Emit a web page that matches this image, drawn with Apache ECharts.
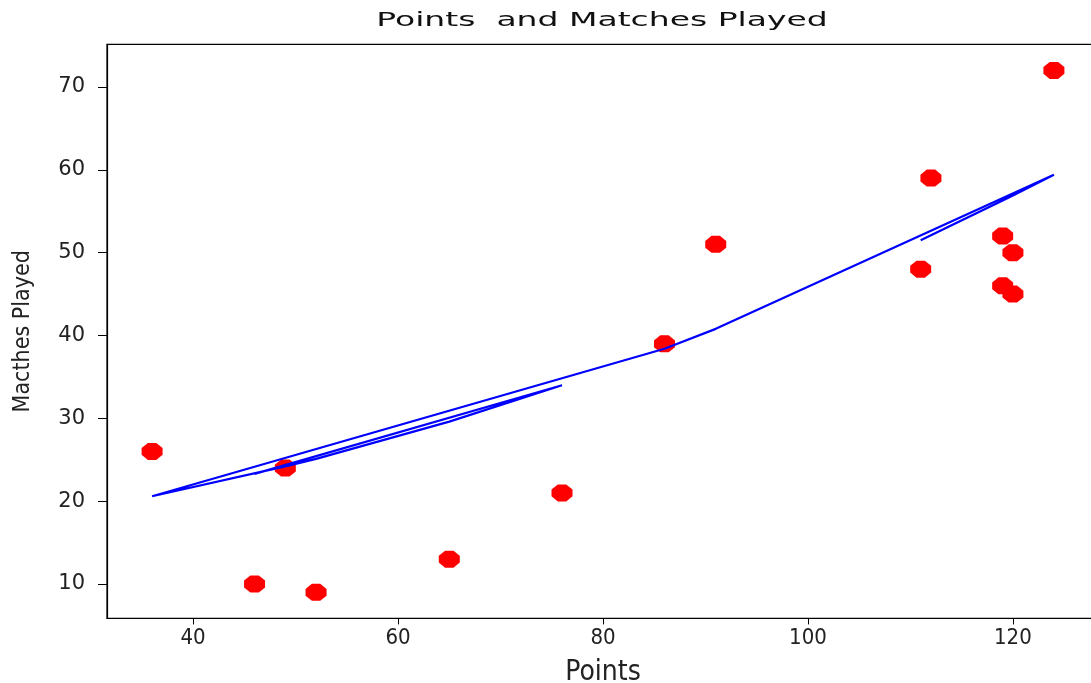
<!DOCTYPE html>
<html>
<head>
<meta charset="utf-8">
<title>Points and Matches Played</title>
<script src="https://cdn.jsdelivr.net/npm/echarts@6/dist/echarts.min.js"></script>
<style>
  html, body { margin: 0; padding: 0; background: #ffffff; }
  #chart { width: 1091px; height: 683px; }
</style>
</head>
<body>
<div id="chart"></div>
<script>
// Points earned and matches played, one entry per team, in table order
const points  = [46, 76, 65, 52, 49, 36, 86, 91, 124, 120, 119, 111, 120, 112, 119];
const matches = [10, 21, 13, 9, 24, 26, 39, 51, 72, 50, 52, 48, 45, 59, 46];
// Fitted trend value for each row (same order as above)
const trend   = [23.3, 34.0, 29.6, 25.1, 24.2, 20.6, 38.4, 40.8, 59.4, 56.9, 56.3, 51.5, 56.9, 52.1, 56.3];

// Tick positions
const xTicks = [40, 60, 80, 100, 120];
const yTicks = [10, 20, 30, 40, 50, 60, 70];

const scatterData = points.map((p, i) => [p, matches[i]]);
const trendData   = points.map((p, i) => [p, trend[i]]);

const octagon = 'path://M3,0 L7,0 L10,3 L10,7 L7,10 L3,10 L0,7 L0,3 Z';
const textColor = '#222222';
const narrowFont = "'DejaVu Sans Condensed', 'Liberation Sans Narrow', 'DejaVu Sans', sans-serif";

const chart = echarts.init(document.getElementById('chart'), null, { renderer: 'canvas' });

chart.setOption({
  backgroundColor: '#ffffff',
  animation: false,
  graphic: [{
    type: 'text',
    x: 602,
    y: 21,
    scaleX: 1.65,
    scaleY: 1,
    style: {
      text: 'Points  and Matches Played',
      font: '20px "DejaVu Sans", sans-serif',
      fill: '#111111',
      textAlign: 'center',
      textVerticalAlign: 'middle'
    }
  }],
  grid: {
    left: 107,
    top: 44.3,
    width: 992,
    height: 574.1,
    containLabel: false,
    outerBoundsMode: 'none',
    show: true,
    borderColor: '#000000',
    borderWidth: 1.2,
    backgroundColor: 'transparent'
  },
  xAxis: {
    type: 'value',
    min: 31.6,
    max: 128.4,
    name: 'Points',
    nameLocation: 'middle',
    nameGap: 40,
    nameTextStyle: { color: textColor, fontSize: 28, fontFamily: narrowFont },
    axisLine: { show: true, onZero: false, lineStyle: { color: '#000000', width: 1.2 } },
    axisTick: { show: true, inside: false, length: 6, customValues: xTicks, lineStyle: { color: '#000000', width: 1 } },
    axisLabel: { customValues: xTicks, color: textColor, fontSize: 22, fontFamily: narrowFont, margin: 9 },
    splitLine: { show: false }
  },
  yAxis: {
    type: 'value',
    min: 5.85,
    max: 75.15,
    name: 'Macthes Played',
    nameLocation: 'middle',
    nameRotate: 90,
    nameGap: 72,
    nameTextStyle: { color: textColor, fontSize: 23, fontFamily: narrowFont },
    axisLine: { show: true, onZero: false, lineStyle: { color: '#000000', width: 1.2 } },
    axisTick: { show: true, inside: false, length: 9, customValues: yTicks, lineStyle: { color: '#000000', width: 1 } },
    axisLabel: { customValues: yTicks, color: textColor, fontSize: 21, fontFamily: 'DejaVu Sans', margin: 22 },
    splitLine: { show: false }
  },
  series: [
    {
      type: 'scatter',
      data: scatterData,
      symbol: octagon,
      symbolSize: [21, 17],
      itemStyle: { color: '#ff0000', opacity: 1 },
      z: 2
    },
    {
      type: 'line',
      data: trendData,
      showSymbol: false,
      symbol: 'none',
      lineStyle: { color: '#0000ff', width: 2.2 },
      z: 3
    }
  ]
});
</script>
</body>
</html>
